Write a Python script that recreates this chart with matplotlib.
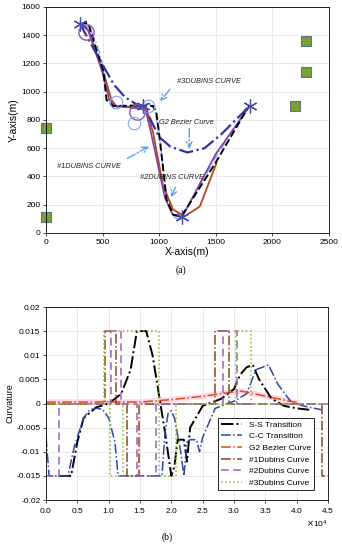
import numpy as np
import matplotlib
matplotlib.use('Agg')
import matplotlib.pyplot as plt

plt.rcParams['font.family'] = ['Liberation Sans', 'DejaVu Sans']

# ---------- (a) path data ----------
start_pts_x = [300, 860, 1200, 1800]
start_pts_y = [1480, 900, 110, 900]
obst_x = [0, 0, 2200, 2300, 2300]
obst_y = [740, 110, 900, 1140, 1360]
circ_x = [350, 800]
circ_y = [1420, 860]

ss_path_x = [300, 373, 447, 506, 535, 594, 829, 947, 976, 1006, 1065, 1124, 1197, 1500, 1771, 1800]
ss_path_y = [1480, 1487, 1294, 1153, 941, 899, 903, 899, 847, 659, 235, 129, 118, 500, 870, 900]

red_path_x = [300, 370, 430, 500, 535, 580, 624, 829, 888, 947, 1035, 1124, 1226, 1359, 1506]
red_path_y = [1480, 1440, 1300, 1150, 1060, 940, 894, 894, 882, 706, 329, 165, 118, 188, 494]

purple_path_x = [300, 380, 500, 560, 620, 820, 880, 930, 1050, 1120, 1200, 1500, 1800]
purple_path_y = [1480, 1430, 1130, 940, 900, 880, 870, 700, 250, 130, 110, 560, 900]

bez_path_x = [300, 480, 600, 700, 860, 900, 1000, 1100, 1250, 1400, 1550, 1700, 1800]
bez_path_y = [1480, 1220, 1050, 960, 880, 840, 680, 610, 570, 600, 700, 820, 900]

cc_path_x = [300, 390, 460, 510, 560, 600, 660, 700, 760, 820, 900, 960, 1000, 1060, 1120, 1160, 1200, 1500, 1800]
cc_path_y = [1480, 1450, 1310, 1160, 930, 880, 890, 900, 880, 900, 920, 880, 700, 300, 120, 100, 110, 540, 900]

# ---------- (b) curvature data ----------
ss_x = [2000, 4000, 5000, 6000, 8000, 10000, 12000, 13500, 14500, 16000, 17000, 18000, 19000, 20000,
        20500, 21000, 22000, 22500, 23000, 25000, 28000, 30000, 31000, 32000, 33000, 34000, 36000, 38000, 40000, 42000]
ss_y = [-0.015, -0.015, -0.008, -0.003, -0.0008, 0.0, 0.002, 0.007, 0.015, 0.015, 0.010, 0.002, -0.006, -0.015,
        -0.013, -0.0075, -0.0075, -0.012, -0.005, -0.0005, 0.001, 0.003, 0.006, 0.0075, 0.008, 0.005, 0.001, -0.0005, -0.001, -0.0013]

cc_x = [0, 500, 3500, 4500, 6000, 7000, 8000, 9000, 10000, 11000, 11500, 12000, 13000, 18500, 19000,
        19500, 20000, 20500, 21500, 22000, 22500, 23000, 24000, 24500, 25000, 27000, 30000, 32000, 33500,
        34500, 35500, 37000, 39000, 41000, 44000]
cc_y = [-0.007, -0.015, -0.015, -0.009, -0.003, -0.0013, -0.001, -0.0012, -0.003, -0.008, -0.015, -0.015, -0.015,
        -0.015, -0.006, -0.002, -0.0015, -0.003, -0.010, -0.015, -0.008, -0.0075, -0.0075, -0.010, -0.007,
        -0.001, 0.0005, 0.002, 0.007, 0.0075, 0.008, 0.004, 0.0005, -0.0005, -0.0013]

g2_x = [0, 15000, 20000, 25000, 31000, 34000, 38000, 40000]
g2_y = [0.0003, 0.0003, 0.0008, 0.0015, 0.0026, 0.0018, 0.0007, 0.0002]

d1_x = [0, 9400, 9400, 11200, 11200, 13000, 13000, 14800, 14800, 27000, 27000, 29200, 29200, 44000, 44000, 45000]
d1_y = [0, 0, .015, .015, 0, 0, -.015, -.015, 0, 0, .015, .015, 0, 0, -.015, -.015]

d2_x = [0, 2000, 2000, 10300, 10300, 12000, 12000, 14600, 14600, 17500, 17500, 28200, 28200, 30500, 30500, 45000]
d2_y = [-.015, -.015, 0, 0, .015, .015, 0, 0, -.015, -.015, 0, 0, .015, .015, 0, 0]

d3_x = [0, 9200, 9200, 18000, 18000, 20800, 20800, 30300, 30300, 32700, 32700, 45000,
        np.nan, 10200, 10200, 12300, 12300]
d3_y = [0, 0, .015, .015, -.015, -.015, 0, 0, .015, .015, 0, 0,
        np.nan, 0, -.015, -.015, 0]

fig = plt.figure(figsize=(3.42, 5.5), dpi=100)

# ---------------- (a) ----------------
ax1 = fig.add_axes([0.1345, 0.5764, 0.8275, 0.4109])
ax1.plot(cc_path_x, cc_path_y, color='#7fa8e8', ls='-.', lw=1.0)
ax1.plot(red_path_x, red_path_y, color='#b5451b', lw=1.3)
ax1.plot(purple_path_x, purple_path_y, color='#8040b0', lw=1.2)
ax1.plot(ss_path_x, ss_path_y, color='black', ls='--', lw=1.4)
ax1.plot(bez_path_x, bez_path_y, color='#3333a0', ls='-.', lw=1.6)
ax1.plot(circ_x, circ_y, 'o', ms=11, mfc='none', mec='#8a55b5', mew=1.0)
ax1.plot([620, 780, 900], [930, 780, 900], 'o', ms=9, mfc='none', mec='#7fa8e8', mew=0.8, ls='none')
ax1.plot(start_pts_x, start_pts_y, marker=(6, 2, 0), ms=10, color='#4a4aa8', mew=0.9, ls='none')
ax1.plot(obst_x, obst_y, 's', ms=7, mfc='#78a232', mec='#607080', mew=0.8, ls='none', clip_on=False)

arrow_kw = dict(arrowstyle='->', color='#5aa0ec', lw=1.0, ls='-.')
txt_kw = dict(fontsize=5.3, style='italic', color='#222222')
ax1.annotate('', xy=(991, 918), xytext=(1109, 1030), arrowprops=arrow_kw)
ax1.text(1153, 1070, '#3DUBINS CURVE', va='center', **txt_kw)
ax1.annotate('', xy=(1265, 576), xytext=(1265, 760), arrowprops=arrow_kw)
ax1.text(1000, 781, 'G2 Bezier Curve', va='center', **txt_kw)
ax1.annotate('', xy=(932, 623), xytext=(697, 518), arrowprops=arrow_kw)
ax1.text(94, 470, '#1DUBINS CURVE', va='center', **txt_kw)
ax1.annotate('', xy=(1094, 235), xytext=(1153, 341), arrowprops=arrow_kw)
ax1.text(829, 395, '#2DUBINS CURVE', va='center', **txt_kw)

ax1.set_xlim(0, 2500)
ax1.set_ylim(0, 1600)
ax1.set_xticks(np.arange(0, 2501, 500))
ax1.set_yticks(np.arange(0, 1601, 200))
ax1.grid(True, color='#e0e0e0', lw=0.5)
ax1.tick_params(labelsize=6, length=2, width=0.5, pad=2)
ax1.set_xlabel('X-axis(m)', fontsize=7.5, labelpad=1)
ax1.set_ylabel('Y-axis(m)', fontsize=7.5, labelpad=2)
for s in ax1.spines.values():
    s.set_linewidth(0.6)

fig.text(0.53, 0.508, '(a)', ha='center', va='center', fontsize=7, family='Liberation Serif')

# ---------------- (b) ----------------
ax2 = fig.add_axes([0.1345, 0.0909, 0.8246, 0.3509])
ax2.plot(g2_x, g2_y, color='#ffb0d8', lw=4, alpha=0.5)
ax2.plot(ss_x, ss_y, color='black', ls='-.', lw=1.4, label='S-S Transition')
ax2.plot(cc_x, cc_y, color='#3344aa', ls='-.', lw=1.1, label='C-C Transition')
ax2.plot(g2_x, g2_y, color='#d2541c', ls='-.', lw=1.1, label='G2 Bezier Curve')
ax2.plot(d1_x, d1_y, color='#8a4a18', ls='-.', lw=1.1, label='#1Dubins Curve')
ax2.plot(d2_x, d2_y, color='#9a60c0', ls=(0, (5, 3)), lw=1.1, label='#2Dubins Curve')
ax2.plot(d3_x, d3_y, color='#88bb22', ls=':', lw=1.1, label='#3Dubins Curve')

ax2.set_xlim(0, 45000)
ax2.set_ylim(-0.02, 0.02)
ax2.set_xticks(np.arange(0, 45001, 5000))
ax2.set_yticks(np.arange(-0.02, 0.0201, 0.005))
ax2.set_yticklabels(['-0.02', '-0.015', '-0.01', '-0.005', '0', '0.005', '0.01', '0.015', '0.02'])
ax2.ticklabel_format(axis='x', style='sci', scilimits=(0, 0), useMathText=True)
ax2.xaxis.get_offset_text().set_fontsize(6)
ax2.grid(True, color='#e0e0e0', lw=0.5)
ax2.tick_params(labelsize=6, length=2, width=0.5, pad=2)
ax2.set_ylabel('Curvature', fontsize=6.5, labelpad=1)
for s in ax2.spines.values():
    s.set_linewidth(0.6)
leg = ax2.legend(loc='lower right', fontsize=6, framealpha=1, fancybox=False,
                 edgecolor='black', handlelength=2.5, borderpad=0.4, labelspacing=0.45,
                 bbox_to_anchor=(0.965, 0.03))
leg.get_frame().set_linewidth(0.6)

fig.text(0.49, 0.024, '(b)', ha='center', va='center', fontsize=7, family='Liberation Serif')

fig.savefig('out.png', dpi=100)
